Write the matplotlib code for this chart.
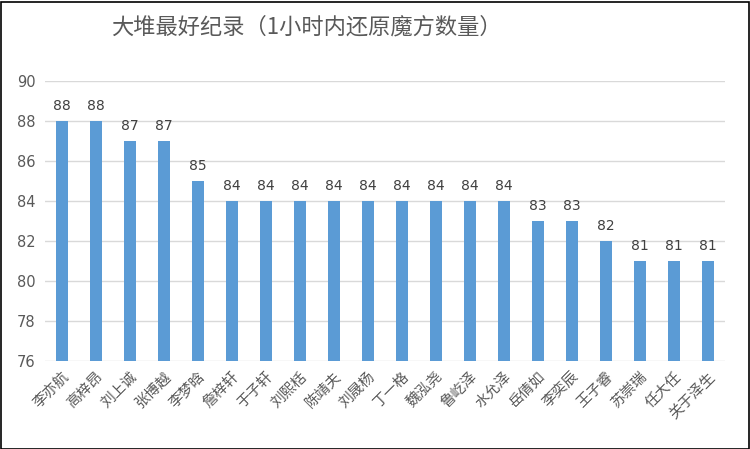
import matplotlib
matplotlib.use("Agg")
import matplotlib.pyplot as plt
from matplotlib.patches import Rectangle

plt.rcParams['font.family'] = ['Noto Sans CJK SC', 'DejaVu Sans']

names = ["李亦航", "高梓昂", "刘上诚", "张博越", "李梦晗", "詹梓轩", "于子轩", "刘熙栝",
         "陈靖夫", "刘晟杨", "丁一格", "魏泓尧", "鲁屹泽", "水允泽", "岳倩如", "李奕辰",
         "王子睿", "苏崇瑞", "任大任", "关于泽生"]
values = [88, 88, 87, 87, 85, 84, 84, 84, 84, 84, 84, 84, 84, 84, 83, 83, 82, 81, 81, 81]
yticks = [76, 78, 80, 82, 84, 86, 88, 90]
title = "大堆最好纪录（1小时内还原魔方数量）"

W, H = 750, 449
fig = plt.figure(figsize=(W / 100, H / 100), dpi=100)
ax = fig.add_axes([45 / W, 1 - 361 / H, (725 - 45) / W, (361 - 81) / H])

bar_color = "#5B9BD5"
text_color = "#595959"
x = list(range(len(names)))
ax.bar(x, values, width=0.36, color=bar_color, zorder=3)
ax.set_ylim(76, 90)
ax.set_xlim(-0.5, len(names) - 0.5)
ax.set_yticks(yticks)
ax.set_yticklabels([str(v) for v in yticks], color=text_color, fontsize=10.5, family='DejaVu Sans')
ax.grid(axis='y', color="#D9D9D9", linewidth=1, zorder=0)
for s in ax.spines.values():
    s.set_visible(False)
ax.tick_params(axis='both', length=0)
ax.tick_params(axis='y', pad=7)
ax.set_xticks(x)
ax.set_xticklabels(names, rotation=45, ha='right', rotation_mode='anchor',
                   color=text_color, fontsize=10.5)
ax.tick_params(axis='x', pad=6)

for xi, v in zip(x, values):
    ax.annotate(str(v), (xi, v), xytext=(0, 6), textcoords='offset points',
                ha='center', va='bottom', color="#404040", fontsize=10, family='DejaVu Sans')

fig.text(306 / W, 1 - 27 / H, title, ha='center', va='center', fontsize=16,
         color=text_color, fontweight='medium')

fig.patches.append(Rectangle((0.5 / W, 0.5 / H), (W - 2) / W, (H - 2) / H,
                             transform=fig.transFigure, fill=False,
                             edgecolor='black', linewidth=1.2))

fig.savefig("out.png", dpi=100)
